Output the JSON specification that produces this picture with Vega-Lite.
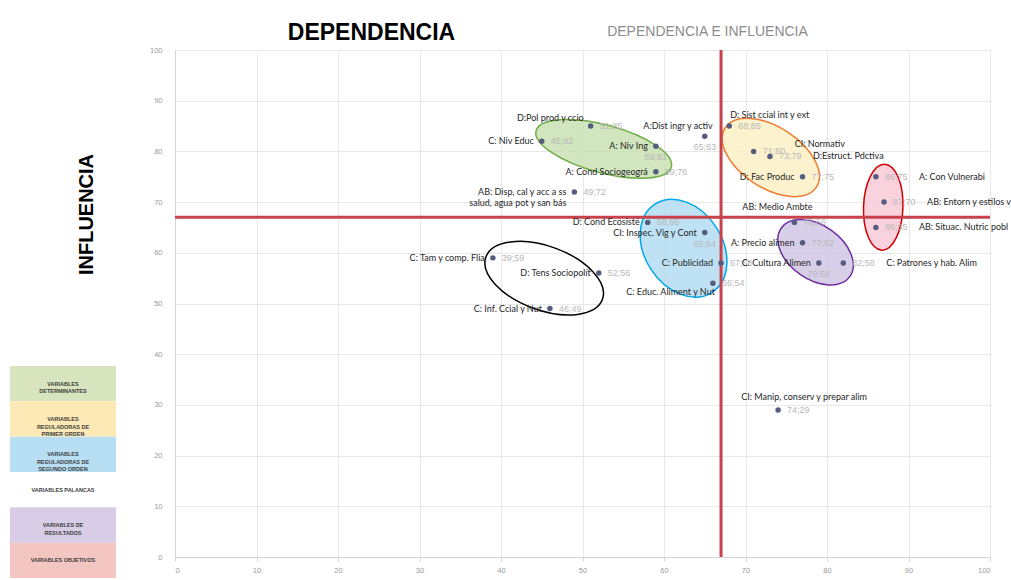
{
  "$schema": "https://vega.github.io/schema/vega-lite/v6.json",
  "background": "white",
  "padding": {"left": 10, "top": 21, "right": 0, "bottom": 0},
  "bounds": "flush",
  "spacing": 59,
  "config": {"view": {"stroke": null}, "font": "Lato"},
  "datasets": {
    "variables": [
      {"nombre": "C: Niv Educ", "x": 45, "y": 82},
      {"nombre": "D:Pol prod y ccio", "x": 51, "y": 85},
      {"nombre": "A:Dist ingr y activ", "x": 65, "y": 83},
      {"nombre": "A: Niv Ing", "x": 59, "y": 81},
      {"nombre": "A: Cond Sociogeográ", "x": 59, "y": 76},
      {"nombre": "AB: Disp, cal y acc a ss\nsalud, agua pot y san bás", "x": 49, "y": 72},
      {"nombre": "D: Sist ccial int y ext", "x": 68, "y": 85},
      {"nombre": "CI: Normativ", "x": 71, "y": 80},
      {"nombre": "D:Estruct. Pdctiva", "x": 73, "y": 79},
      {"nombre": "D: Fac Produc", "x": 77, "y": 75},
      {"nombre": "A: Con Vulnerabi", "x": 86, "y": 75},
      {"nombre": "AB: Entorn y estilos v", "x": 87, "y": 70},
      {"nombre": "AB: Situac. Nutric pobl", "x": 86, "y": 65},
      {"nombre": "AB: Medio Ambte", "x": 76, "y": 66},
      {"nombre": "A: Precio alimen", "x": 77, "y": 62},
      {"nombre": "C: Cultura Alimen", "x": 79, "y": 58},
      {"nombre": "C: Patrones y hab. Alim", "x": 82, "y": 58},
      {"nombre": "D: Cond Ecosisté", "x": 58, "y": 66},
      {"nombre": "CI: Inspec. Vig y Cont", "x": 65, "y": 64},
      {"nombre": "C: Publicidad", "x": 67, "y": 58},
      {"nombre": "C: Educ. Aliment y Nut", "x": 66, "y": 54},
      {"nombre": "C: Tam y comp. Flia", "x": 39, "y": 59},
      {"nombre": "D: Tens Sociopolít", "x": 52, "y": 56},
      {"nombre": "C: Inf. Ccial y Nut", "x": 46, "y": 49},
      {"nombre": "CI: Manip, conserv y prepar alim", "x": 74, "y": 29}
    ],
    "elipses": [
      {"grupo": "Determinantes", "x": 52.6, "y": 80.5},
      {"grupo": "Primer orden", "x": 73.1, "y": 78.8},
      {"grupo": "Objetivos", "x": 86.9, "y": 69.0},
      {"grupo": "Resultados", "x": 78.6, "y": 60.1},
      {"grupo": "Segundo orden", "x": 62.4, "y": 60.9},
      {"grupo": "Palancas", "x": 45.3, "y": 55.0}
    ],
    "umbrales": [{"dependencia": 67, "influencia": 67}],
    "leyenda": [
      {"tipo": "Determinantes", "texto": "VARIABLES\nDETERMINANTES"},
      {"tipo": "Primer orden", "texto": "VARIABLES\nREGULADORAS DE\nPRIMER ORDEN"},
      {"tipo": "Segundo orden", "texto": "VARIABLES\nREGULADORAS DE\nSEGUNDO ORDEN"},
      {"tipo": "Palancas", "texto": "VARIABLES PALANCAS"},
      {"tipo": "Resultados", "texto": "VARIABLES DE\nRESULTADOS"},
      {"tipo": "Objetivos", "texto": "VARIABLES OBJETIVOS"}
    ]
  },
  "hconcat": [
    {
      "width": 106,
      "height": 528,
      "data": {"name": "leyenda"},
      "encoding": {
        "y": {"field": "tipo", "type": "nominal", "sort": null, "axis": null, "scale": {"paddingInner": 0, "paddingOuter": 0, "range": [316, 528]}}
      },
      "layer": [
        {
          "mark": {"type": "rect"},
          "encoding": {
            "fill": {
              "field": "tipo", "type": "nominal", "legend": null,
              "scale": {
                "domain": ["Determinantes", "Primer orden", "Segundo orden", "Palancas", "Resultados", "Objetivos"],
                "range": ["#d7e4bd", "#fce9b5", "#b8def4", "#ffffff", "#d8cce6", "#f4c6c2"]
              }
            }
          }
        },
        {
          "mark": {"type": "text", "fontSize": 5.5, "fontWeight": "bold", "color": "#3c3c3c", "lineBreak": "\n", "font": "Liberation Sans"},
          "encoding": {"text": {"field": "texto"}}
        }
      ]
    },
    {
      "width": 815,
      "height": 507,
      "title": {"text": "DEPENDENCIA E INFLUENCIA", "anchor": "middle", "frame": "group", "dx": 125, "dy": 18, "fontSize": 14, "fontWeight": "normal", "color": "#8c8c8c", "font": "Liberation Sans", "offset": 0},
      "layer": [
        {
          "data": {"name": "elipses"},
          "transform": [{"filter": "datum.grupo == 'Determinantes'"}],
          "mark": {"type": "point", "shape": "M1,0C1,0.1894,0.5523,0.343,0,0.343C-0.5523,0.343,-1,0.1894,-1,0C-1,-0.1894,-0.5523,-0.343,0,-0.343C0.5523,-0.343,1,-0.1894,1,0Z", "size": 19600, "angle": 15, "filled": true, "fill": "#c5dfae", "fillOpacity": 0.8, "stroke": "#70ad47", "strokeWidth": 1.5, "opacity": 1},
          "encoding": {
            "x": {
              "field": "x", "type": "quantitative", "scale": {"domain": [0, 100], "nice": false},
              "axis": {
                "values": [0, 10, 20, 30, 40, 50, 60, 70, 80, 90, 100],
                "grid": true, "gridColor": "#e8e8e8", "domainColor": "#d4d4d4", "tickColor": "#d4d4d4", "tickSize": 4,
                "labelColor": "#9a9a9a", "labelFontSize": 7.5, "labelPadding": 5, "labelFont": "Liberation Sans",
                "title": "DEPENDENCIA", "titleFontSize": 23, "titleFontWeight": "bold", "titleColor": "#000000", "titleFont": "Liberation Sans",
                "titleX": 196, "titleY": -525, "titleAlign": "center", "titleBaseline": "middle", "titleAnchor": null
              }
            },
            "y": {
              "field": "y", "type": "quantitative", "scale": {"domain": [0, 100], "nice": false},
              "axis": {
                "values": [0, 10, 20, 30, 40, 50, 60, 70, 80, 90, 100],
                "grid": true, "gridColor": "#e8e8e8", "domainColor": "#d4d4d4", "ticks": false,
                "labelColor": "#9a9a9a", "labelFontSize": 7.5, "labelPadding": 13, "labelFont": "Liberation Sans",
                "title": "INFLUENCIA", "titleFontSize": 20, "titleFontWeight": "bold", "titleColor": "#000000", "titleFont": "Liberation Sans Narrow, Liberation Sans",
                "titleX": -89, "titleY": 164, "titleAngle": -90, "titleAlign": "center", "titleBaseline": "middle"
              }
            }
          }
        },
        {
          "data": {"name": "elipses"},
          "transform": [{"filter": "datum.grupo == 'Primer orden'"}],
          "mark": {"type": "point", "shape": "M1,0C1,0.3093,0.5523,0.56,0,0.56C-0.5523,0.56,-1,0.3093,-1,0C-1,-0.3093,-0.5523,-0.56,0,-0.56C0.5523,-0.56,1,-0.3093,1,0Z", "size": 11881, "angle": 33, "filled": true, "fill": "#fdf0c6", "fillOpacity": 0.85, "stroke": "#ed7d31", "strokeWidth": 1.5, "opacity": 1},
          "encoding": {
            "x": {"field": "x", "type": "quantitative", "scale": {"domain": [0, 100], "nice": false}},
            "y": {"field": "y", "type": "quantitative", "scale": {"domain": [0, 100], "nice": false}}
          }
        },
        {
          "data": {"name": "elipses"},
          "transform": [{"filter": "datum.grupo == 'Objetivos'"}],
          "mark": {"type": "point", "shape": "M1,0C1,0.253,0.5523,0.458,0,0.458C-0.5523,0.458,-1,0.253,-1,0C-1,-0.253,-0.5523,-0.458,0,-0.458C0.5523,-0.458,1,-0.253,1,0Z", "size": 7396, "angle": 92, "filled": true, "fill": "#f8cad8", "fillOpacity": 0.85, "stroke": "#d40000", "strokeWidth": 1.5, "opacity": 1},
          "encoding": {
            "x": {"field": "x", "type": "quantitative", "scale": {"domain": [0, 100], "nice": false}},
            "y": {"field": "y", "type": "quantitative", "scale": {"domain": [0, 100], "nice": false}}
          }
        },
        {
          "data": {"name": "elipses"},
          "transform": [{"filter": "datum.grupo == 'Resultados'"}],
          "mark": {"type": "point", "shape": "M1,0C1,0.3551,0.5523,0.643,0,0.643C-0.5523,0.643,-1,0.3551,-1,0C-1,-0.3551,-0.5523,-0.643,0,-0.643C0.5523,-0.643,1,-0.3551,1,0Z", "size": 7056, "angle": 35, "filled": true, "fill": "#d0c5e4", "fillOpacity": 0.85, "stroke": "#7030a0", "strokeWidth": 1.5, "opacity": 1},
          "encoding": {
            "x": {"field": "x", "type": "quantitative", "scale": {"domain": [0, 100], "nice": false}},
            "y": {"field": "y", "type": "quantitative", "scale": {"domain": [0, 100], "nice": false}}
          }
        },
        {
          "data": {"name": "elipses"},
          "transform": [{"filter": "datum.grupo == 'Segundo orden'"}],
          "mark": {"type": "point", "shape": "M1,0C1,0.4087,0.5523,0.74,0,0.74C-0.5523,0.74,-1,0.4087,-1,0C-1,-0.4087,-0.5523,-0.74,0,-0.74C0.5523,-0.74,1,-0.4087,1,0Z", "size": 11025, "angle": 57, "filled": true, "fill": "#b4dcf2", "fillOpacity": 0.85, "stroke": "#00a8e8", "strokeWidth": 1.5, "opacity": 1},
          "encoding": {
            "x": {"field": "x", "type": "quantitative", "scale": {"domain": [0, 100], "nice": false}},
            "y": {"field": "y", "type": "quantitative", "scale": {"domain": [0, 100], "nice": false}}
          }
        },
        {
          "data": {"name": "elipses"},
          "transform": [{"filter": "datum.grupo == 'Palancas'"}],
          "mark": {"type": "point", "shape": "M1,0C1,0.285,0.5523,0.516,0,0.516C-0.5523,0.516,-1,0.285,-1,0C-1,-0.285,-0.5523,-0.516,0,-0.516C0.5523,-0.516,1,-0.285,1,0Z", "size": 15376, "angle": 20, "filled": false, "stroke": "#000000", "strokeWidth": 1.5, "opacity": 1},
          "encoding": {
            "x": {"field": "x", "type": "quantitative", "scale": {"domain": [0, 100], "nice": false}},
            "y": {"field": "y", "type": "quantitative", "scale": {"domain": [0, 100], "nice": false}}
          }
        },
        {
          "data": {"name": "umbrales"},
          "mark": {"type": "rule", "color": "#c8414b", "strokeWidth": 3},
          "encoding": {
            "x": {"field": "dependencia", "type": "quantitative", "scale": {"domain": [0, 100], "nice": false}}
          }
        },
        {
          "data": {"name": "umbrales"},
          "mark": {"type": "rule", "color": "#c8414b", "strokeWidth": 3},
          "encoding": {
            "y": {"field": "influencia", "type": "quantitative", "scale": {"domain": [0, 100], "nice": false}}
          }
        },
        {
          "data": {"name": "variables"},
          "mark": {"type": "circle", "size": 30, "color": "#565c7e", "opacity": 1},
          "encoding": {
            "x": {"field": "x", "type": "quantitative", "scale": {"domain": [0, 100], "nice": false}},
            "y": {"field": "y", "type": "quantitative", "scale": {"domain": [0, 100], "nice": false}}
          }
        },
        {
          "data": {"name": "variables"},
          "transform": [
            {"filter": {"not": {"field": "nombre", "oneOf": ["A: Niv Ing", "C: Cultura Alimen", "A:Dist ingr y activ", "CI: Inspec. Vig y Cont"]}}},
            {"calculate": "datum.x + ';' + datum.y", "as": "valor"}
          ],
          "mark": {"type": "text", "align": "left", "dx": 9, "fontSize": 9, "color": "#b8b8b8", "font": "Liberation Sans"},
          "encoding": {
            "x": {"field": "x", "type": "quantitative", "scale": {"domain": [0, 100], "nice": false}},
            "y": {"field": "y", "type": "quantitative", "scale": {"domain": [0, 100], "nice": false}},
            "text": {"field": "valor"}
          }
        },
        {
          "data": {"name": "variables"},
          "transform": [
            {"filter": {"field": "nombre", "oneOf": ["A: Niv Ing", "C: Cultura Alimen", "A:Dist ingr y activ", "CI: Inspec. Vig y Cont"]}},
            {"calculate": "datum.x + ';' + datum.y", "as": "valor"}
          ],
          "mark": {"type": "text", "align": "center", "dy": 11, "fontSize": 9, "color": "#b8b8b8", "font": "Liberation Sans"},
          "encoding": {
            "x": {"field": "x", "type": "quantitative", "scale": {"domain": [0, 100], "nice": false}},
            "y": {"field": "y", "type": "quantitative", "scale": {"domain": [0, 100], "nice": false}},
            "text": {"field": "valor"}
          }
        },
        {
          "data": {"name": "variables"},
          "transform": [{"filter": {"field": "nombre", "oneOf": ["C: Niv Educ", "A: Niv Ing", "A: Cond Sociogeográ", "AB: Disp, cal y acc a ss\nsalud, agua pot y san bás", "D: Fac Produc", "A: Precio alimen", "C: Cultura Alimen", "D: Cond Ecosisté", "CI: Inspec. Vig y Cont", "C: Publicidad", "C: Tam y comp. Flia", "D: Tens Sociopolít", "C: Inf. Ccial y Nut"]}}],
          "mark": {"type": "text", "align": "right", "dx": -8, "fontSize": 9, "color": "#262626", "lineBreak": "\n"},
          "encoding": {
            "x": {"field": "x", "type": "quantitative", "scale": {"domain": [0, 100], "nice": false}},
            "y": {"field": "y", "type": "quantitative", "scale": {"domain": [0, 100], "nice": false}},
            "text": {"field": "nombre"}
          }
        },
        {
          "data": {"name": "variables"},
          "transform": [{"filter": {"field": "nombre", "oneOf": ["D:Estruct. Pdctiva", "A: Con Vulnerabi", "AB: Entorn y estilos v", "AB: Situac. Nutric pobl", "C: Patrones y hab. Alim"]}}],
          "mark": {"type": "text", "align": "left", "dx": 43, "fontSize": 9, "color": "#262626"},
          "encoding": {
            "x": {"field": "x", "type": "quantitative", "scale": {"domain": [0, 100], "nice": false}},
            "y": {"field": "y", "type": "quantitative", "scale": {"domain": [0, 100], "nice": false}},
            "text": {"field": "nombre"}
          }
        },
        {
          "data": {"name": "variables"},
          "transform": [{"filter": "datum.nombre == 'CI: Normativ'"}],
          "mark": {"type": "text", "align": "left", "dx": 41, "dy": -7, "fontSize": 9, "color": "#262626"},
          "encoding": {
            "x": {"field": "x", "type": "quantitative", "scale": {"domain": [0, 100], "nice": false}},
            "y": {"field": "y", "type": "quantitative", "scale": {"domain": [0, 100], "nice": false}},
            "text": {"field": "nombre"}
          }
        },
        {
          "data": {"name": "variables"},
          "transform": [{"filter": "datum.nombre == 'D:Pol prod y ccio'"}],
          "mark": {"type": "text", "align": "right", "dx": -7, "dy": -8, "fontSize": 9, "color": "#262626"},
          "encoding": {
            "x": {"field": "x", "type": "quantitative", "scale": {"domain": [0, 100], "nice": false}},
            "y": {"field": "y", "type": "quantitative", "scale": {"domain": [0, 100], "nice": false}},
            "text": {"field": "nombre"}
          }
        },
        {
          "data": {"name": "variables"},
          "transform": [{"filter": "datum.nombre == 'A:Dist ingr y activ'"}],
          "mark": {"type": "text", "align": "right", "dx": 8, "dy": -10, "fontSize": 9, "color": "#262626"},
          "encoding": {
            "x": {"field": "x", "type": "quantitative", "scale": {"domain": [0, 100], "nice": false}},
            "y": {"field": "y", "type": "quantitative", "scale": {"domain": [0, 100], "nice": false}},
            "text": {"field": "nombre"}
          }
        },
        {
          "data": {"name": "variables"},
          "transform": [{"filter": "datum.nombre == 'D: Sist ccial int y ext'"}],
          "mark": {"type": "text", "align": "left", "dx": 1, "dy": -11, "fontSize": 9, "color": "#262626"},
          "encoding": {
            "x": {"field": "x", "type": "quantitative", "scale": {"domain": [0, 100], "nice": false}},
            "y": {"field": "y", "type": "quantitative", "scale": {"domain": [0, 100], "nice": false}},
            "text": {"field": "nombre"}
          }
        },
        {
          "data": {"name": "variables"},
          "transform": [{"filter": "datum.nombre == 'AB: Medio Ambte'"}],
          "mark": {"type": "text", "align": "center", "dx": -17, "dy": -15, "fontSize": 9, "color": "#262626"},
          "encoding": {
            "x": {"field": "x", "type": "quantitative", "scale": {"domain": [0, 100], "nice": false}},
            "y": {"field": "y", "type": "quantitative", "scale": {"domain": [0, 100], "nice": false}},
            "text": {"field": "nombre"}
          }
        },
        {
          "data": {"name": "variables"},
          "transform": [{"filter": "datum.nombre == 'C: Educ. Aliment y Nut'"}],
          "mark": {"type": "text", "align": "right", "dx": 2, "dy": 9, "fontSize": 9, "color": "#262626"},
          "encoding": {
            "x": {"field": "x", "type": "quantitative", "scale": {"domain": [0, 100], "nice": false}},
            "y": {"field": "y", "type": "quantitative", "scale": {"domain": [0, 100], "nice": false}},
            "text": {"field": "nombre"}
          }
        },
        {
          "data": {"name": "variables"},
          "transform": [{"filter": "datum.nombre == 'CI: Manip, conserv y prepar alim'"}],
          "mark": {"type": "text", "align": "center", "dx": 26, "dy": -13, "fontSize": 9, "color": "#262626"},
          "encoding": {
            "x": {"field": "x", "type": "quantitative", "scale": {"domain": [0, 100], "nice": false}},
            "y": {"field": "y", "type": "quantitative", "scale": {"domain": [0, 100], "nice": false}},
            "text": {"field": "nombre"}
          }
        }
      ]
    }
  ]
}
